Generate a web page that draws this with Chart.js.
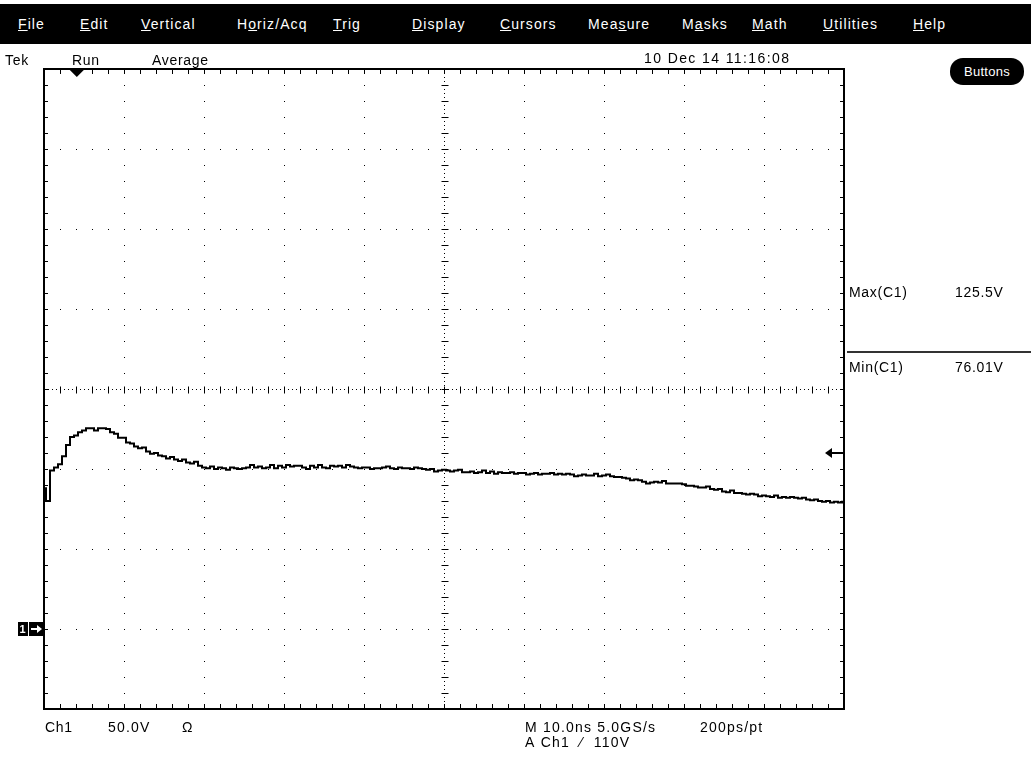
<!DOCTYPE html>
<html>
<head>
<meta charset="utf-8">
<script src="https://cdn.jsdelivr.net/npm/chart.js@4.4.1/dist/chart.umd.min.js"></script>
<style>
body{margin:0;background:#fff;font-family:"Liberation Sans",Arial,sans-serif;font-size:14px;color:#000;letter-spacing:0.7px}
#wrap{position:relative;width:1031px;height:757px;overflow:hidden}
canvas{position:absolute;left:0;top:0}
.t{position:absolute;white-space:nowrap;line-height:16px}
.w{letter-spacing:1.2px}
#menu{position:absolute;left:0;top:4px;width:1031px;height:40px;background:#000}
#menu span{position:absolute;top:12px;color:#fff;line-height:16px;white-space:nowrap;letter-spacing:1.1px}
#btns{position:absolute;left:950px;top:58px;width:74px;height:27px;background:#000;color:#fff;border-radius:13px;text-align:center;line-height:27px;font-size:13px;letter-spacing:0.3px}
#sep{position:absolute;left:847px;top:351px;width:184px;height:2px;background:#333}
</style>
</head>
<body>
<div id="wrap">
  <canvas id="scope" width="1031" height="757"></canvas>
  <div id="menu">
    <span style="left:18px"><u>F</u>ile</span>
    <span style="left:80px"><u>E</u>dit</span>
    <span style="left:141px"><u>V</u>ertical</span>
    <span style="left:237px">H<u>o</u>riz/Acq</span>
    <span style="left:333px"><u>T</u>rig</span>
    <span style="left:412px"><u>D</u>isplay</span>
    <span style="left:500px"><u>C</u>ursors</span>
    <span style="left:588px">Mea<u>s</u>ure</span>
    <span style="left:682px">M<u>a</u>sks</span>
    <span style="left:752px"><u>M</u>ath</span>
    <span style="left:823px"><u>U</u>tilities</span>
    <span style="left:913px"><u>H</u>elp</span>
  </div>
  <div class="t" style="left:5px;top:52px">Tek</div>
  <div class="t" style="left:72px;top:52px">Run</div>
  <div class="t" style="left:152px;top:52px">Average</div>
  <div class="t" style="left:644px;top:50px;letter-spacing:1.4px">10 Dec 14 11:16:08</div>
  <div id="btns">Buttons</div>
  <div class="t" style="left:849px;top:284px">Max(C1)</div>
  <div class="t" style="left:955px;top:284px">125.5V</div>
  <div id="sep"></div>
  <div class="t" style="left:849px;top:359px">Min(C1)</div>
  <div class="t" style="left:955px;top:359px">76.01V</div>
  <div class="t" style="left:45px;top:719px">Ch1</div>
  <div class="t w" style="left:108px;top:719px">50.0V</div>
  <div class="t" style="left:182px;top:719px">&Omega;</div>
  <div class="t w" style="left:525px;top:719px">M 10.0ns 5.0GS/s</div>
  <div class="t w" style="left:700px;top:719px">200ps/pt</div>
  <div class="t w" style="left:525px;top:734px">A&nbsp;Ch1 &nbsp;&#8260;&nbsp; 110V</div>
</div>
<script>
// scope settings: 10 ns/div, 50 V/div, ground 3.5 div below centre
const xTicks = [0, 10, 20, 30, 40, 50, 60, 70, 80, 90, 100]
const yTicks = [-50, 0, 50, 100, 150, 200, 250, 300, 350]
const sampleStepNs = 0.5
const triggerPosNs = 4.1
const triggerLevelV = 110

// Ch1 trace (V), every 0.5 ns
const ch1Volts = [
  88, 80, 99, 101, 103, 108, 115, 120, 121, 123,
  124, 125.5, 125.5, 124, 125.5, 125.5, 125, 123, 122, 119.5,
  119.5, 116.5, 116, 114, 113, 113.5, 111, 109.5, 110, 108.5,
  108, 106.5, 107.5, 106, 105, 106, 104, 103.5, 104.5, 102,
  101, 100.5, 101.5, 100, 101, 100.5, 99.5, 101, 100.5, 100,
  100.5, 101, 102.5, 101, 101.5, 100.5, 101, 102.5, 100.5, 102,
  101, 102.5, 101.5, 102, 102, 101, 100, 102, 101, 102.5,
  101, 100.5, 102, 101.5, 102, 101, 102.5, 101.5, 101, 100.5,
  101, 101, 100, 100.5, 100.5, 101, 101.5, 100.5, 100, 101,
  100.5, 100.5, 100, 101, 100.5, 100, 99.5, 100, 98.5, 99,
  99.5, 99, 98.5, 99, 99.5, 98, 98, 98.5, 97.5, 98,
  99, 97.5, 98.5, 97, 98, 97.5, 97.5, 98, 97, 97.5,
  97.5, 96.5, 97, 97.5, 96.5, 97, 97, 97.5, 96.5, 97,
  96.5, 97, 96.5, 95.5, 96, 96.5, 96, 96, 97, 95.5,
  96, 96.5, 95.5, 95, 95, 94.5, 94, 93, 93.5, 93,
  92, 91, 91.5, 92, 91.5, 92.5, 91, 91, 91, 91,
  90.5, 89.5, 89.5, 89, 88.5, 88.5, 89, 87.5, 87, 87.5,
  86, 85.5, 86.5, 85, 85, 84.5, 84, 84.5, 84, 83,
  83.5, 83, 82.5, 83.5, 82, 82.5, 82, 82.5, 82, 81.5,
  82, 81, 80.5, 81, 80, 79.5, 80, 79, 79.5, 79,
  79.5
]

const points = ch1Volts.map((v, i) => ({x: i * sampleStepNs, y: v}))

const graticule = {
  id: 'graticule',
  beforeDatasetsDraw(chart) {
    const ctx = chart.ctx
    const a = chart.chartArea
    const xs = chart.scales.x
    const ys = chart.scales.y
    const cx = Math.round(xs.getPixelForValue(50)) + 0.5
    const cy = Math.round(ys.getPixelForValue(150)) + 0.5
    ctx.save()
    ctx.strokeStyle = '#000'
    ctx.lineWidth = 1
    // centre cross, dense dots
    ctx.setLineDash([1, 3])
    ctx.beginPath()
    ctx.moveTo(a.left, cy); ctx.lineTo(a.right, cy)
    ctx.moveTo(cx, a.top); ctx.lineTo(cx, a.bottom)
    ctx.stroke()
    ctx.setLineDash([])
    ctx.beginPath()
    for (let t = 0; t <= 100; t += 2) {
      const px = Math.round(xs.getPixelForValue(t)) + 0.5
      ctx.moveTo(px, cy - 3); ctx.lineTo(px, cy + 4)
      ctx.moveTo(px, a.bottom); ctx.lineTo(px, a.bottom - 5)
      ctx.moveTo(px, a.top); ctx.lineTo(px, a.top + 5)
    }
    for (let v = -50; v <= 350; v += 10) {
      const py = Math.round(ys.getPixelForValue(v)) + 0.5
      ctx.moveTo(cx - 3, py); ctx.lineTo(cx + 4, py)
      ctx.moveTo(a.left, py); ctx.lineTo(a.left + 4, py)
      ctx.moveTo(a.right, py); ctx.lineTo(a.right - 4, py)
    }
    ctx.stroke()
    // frame
    ctx.lineWidth = 2
    ctx.strokeRect(a.left, a.top, a.right - a.left, a.bottom - a.top)
    ctx.restore()
  },
  afterDraw(chart) {
    const ctx = chart.ctx
    const a = chart.chartArea
    const xs = chart.scales.x
    const ys = chart.scales.y
    ctx.save()
    ctx.fillStyle = '#000'
    // trigger position
    const tx = xs.getPixelForValue(triggerPosNs)
    ctx.beginPath()
    ctx.moveTo(tx - 7, a.top + 1); ctx.lineTo(tx + 7, a.top + 1); ctx.lineTo(tx, a.top + 8)
    ctx.closePath(); ctx.fill()
    // trigger level arrow
    const ty = Math.round(ys.getPixelForValue(triggerLevelV))
    ctx.fillRect(a.right - 14, ty - 1, 13, 2)
    ctx.beginPath()
    ctx.moveTo(a.right - 19, ty); ctx.lineTo(a.right - 12, ty - 5); ctx.lineTo(a.right - 12, ty + 5)
    ctx.closePath(); ctx.fill()
    // ch1 ground marker
    const gy = Math.round(ys.getPixelForValue(0))
    ctx.fillRect(18, gy - 7, 10, 14)
    ctx.fillRect(29, gy - 7, 15, 14)
    ctx.fillStyle = '#fff'
    ctx.font = 'bold 11px "Liberation Sans", Arial, sans-serif'
    ctx.textAlign = 'center'
    ctx.textBaseline = 'middle'
    ctx.fillText('1', 23, gy + 1)
    ctx.fillRect(31, gy - 1, 7, 2)
    ctx.beginPath()
    ctx.moveTo(42, gy); ctx.lineTo(37, gy - 4); ctx.lineTo(37, gy + 4)
    ctx.closePath(); ctx.fill()
    ctx.restore()
  }
}

const ctx = document.getElementById('scope')

new Chart(ctx, {
  type: 'line',
  data: {
    datasets: [{
      data: points,
      borderColor: '#000',
      borderWidth: 2,
      pointRadius: 0,
      stepped: 'middle',
      tension: 0
    }]
  },
  options: {
    responsive: false,
    animation: false,
    events: [],
    layout: {padding: {left: 44, top: 69, right: 187, bottom: 48}},
    plugins: {legend: {display: false}, tooltip: {enabled: false}},
    scales: {
      x: {
        type: 'linear', min: 0, max: 100,
        afterBuildTicks: s => { s.ticks = xTicks.map(v => ({value: v})) },
        ticks: {display: false},
        grid: {color: '#000', lineWidth: 1, drawTicks: false},
        border: {display: false, dash: [1, 15]}
      },
      y: {
        type: 'linear', min: -50, max: 350,
        afterBuildTicks: s => { s.ticks = yTicks.map(v => ({value: v})) },
        ticks: {display: false},
        grid: {color: '#000', lineWidth: 1, drawTicks: false},
        border: {display: false, dash: [1, 15]}
      }
    }
  },
  plugins: [graticule]
})
</script>
</body>
</html>
